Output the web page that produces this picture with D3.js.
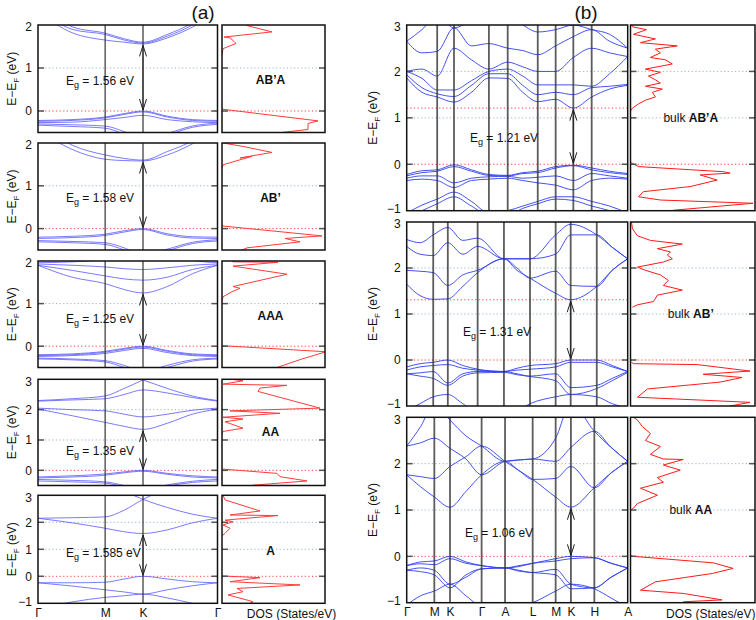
<!DOCTYPE html>
<html><head><meta charset="utf-8">
<script src="https://cdn.jsdelivr.net/npm/d3@7"></script>
<style>body{margin:0;background:#fff}svg{display:block;font-family:"Liberation Sans",Arial,sans-serif}</style>
</head><body><svg id="c" width="756" height="620"></svg>
<script>
// ================= DATA =================
// (a) path Γ-M-K-Γ : k nodes (path fraction)
const kPathA = [0, 0.19, 0.374, 0.48, 0.585, 0.72, 0.86, 1];
const symPosA = [0, 0.374, 0.585, 1];
const symLabelsA = ["Γ", "M", "K", "Γ"];

const bandsABpA = [
  [2.30, 1.82, 1.65, 1.60, 1.56, 1.70, 1.95, 2.30],
  [2.40, 1.90, 1.78, 1.65, 1.58, 1.74, 2.00, 2.40],
  [2.50, 1.96, 1.81, 1.68, 1.60, 1.78, 2.05, 2.50],
  [-0.22, -0.20, -0.14, -0.06, 0.00, -0.12, -0.20, -0.22],
  [-0.24, -0.22, -0.16, -0.08, -0.02, -0.14, -0.22, -0.24],
  [-0.27, -0.26, -0.20, -0.15, -0.10, -0.20, -0.25, -0.27],
  [-0.30, -0.32, -0.35, -0.48, -0.65, -0.52, -0.35, -0.28],
  [-0.33, -0.36, -0.40, -0.54, -0.72, -0.56, -0.38, -0.31]
];
const bandsABp = [
  [2.30, 1.85, 1.62, 1.59, 1.58, 1.72, 1.98, 2.35],
  [2.45, 1.95, 1.72, 1.64, 1.60, 1.80, 2.05, 2.45],
  [-0.20, -0.18, -0.13, -0.05, 0.00, -0.12, -0.19, -0.20],
  [-0.23, -0.21, -0.16, -0.08, -0.02, -0.15, -0.22, -0.23],
  [-0.28, -0.30, -0.33, -0.45, -0.62, -0.48, -0.32, -0.26],
  [-0.31, -0.33, -0.37, -0.50, -0.68, -0.52, -0.35, -0.29]
];
const bandsAAA = [
  [1.90, 1.62, 1.47, 1.33, 1.25, 1.40, 1.70, 1.90],
  [1.90, 1.78, 1.65, 1.58, 1.55, 1.62, 1.80, 1.90],
  [1.93, 1.90, 1.86, 1.82, 1.80, 1.84, 1.90, 1.93],
  [1.96, 1.98, 2.05, 2.25, 2.45, 2.20, 2.02, 1.96],
  [-0.20, -0.18, -0.12, -0.05, 0.00, -0.10, -0.18, -0.20],
  [-0.22, -0.20, -0.14, -0.07, -0.02, -0.12, -0.20, -0.22],
  [-0.24, -0.22, -0.17, -0.10, -0.05, -0.15, -0.22, -0.24],
  [-0.28, -0.30, -0.34, -0.45, -0.60, -0.45, -0.32, -0.28],
  [-0.30, -0.32, -0.37, -0.50, -0.66, -0.50, -0.35, -0.30]
];
const bandsAA = [
  [2.02, 1.80, 1.58, 1.45, 1.35, 1.55, 1.85, 2.02],
  [2.05, 2.00, 1.96, 1.85, 1.76, 1.85, 1.98, 2.05],
  [2.28, 2.32, 2.36, 2.50, 2.65, 2.55, 2.40, 2.28],
  [2.30, 2.36, 2.45, 2.70, 2.98, 3.40, 3.60, 3.70],
  [3.70, 3.60, 3.40, 3.20, 2.98, 2.70, 2.45, 2.30],
  [-0.22, -0.18, -0.12, -0.05, 0.00, -0.10, -0.18, -0.22],
  [-0.25, -0.22, -0.16, -0.08, -0.03, -0.13, -0.22, -0.25],
  [-0.30, -0.33, -0.38, -0.50, -0.65, -0.48, -0.36, -0.30],
  [-0.35, -0.38, -0.42, -0.55, -0.70, -0.52, -0.40, -0.35]
];
const bandsA = [
  [2.15, 1.98, 1.78, 1.65, 1.585, 1.72, 1.98, 2.15],
  [2.15, 2.17, 2.20, 2.45, 2.85, 3.25, 3.60, 3.70],
  [3.70, 3.60, 3.45, 3.15, 2.85, 2.55, 2.30, 2.15],
  [-0.24, -0.24, -0.22, -0.10, 0.00, -0.10, -0.20, -0.24],
  [-0.24, -0.36, -0.50, -0.58, -0.66, -0.50, -0.35, -0.24],
  [-1.20, -0.95, -0.78, -0.72, -0.66, -0.80, -1.00, -1.20]
];

// DOS: [energy (eV), DOS (arb.)], two branches each
const dosABpA = [
  [[2.10,10],[2.05,20],[1.98,26],[1.84,50],[1.72,2],[1.70,8],[1.62,12],[1.57,14],[1.45,1],[1.30,0]],
  [[0.06,0],[0.04,1],[-0.23,96],[-0.29,86],[-0.43,86],[-0.56,36],[-0.62,20]]
];
const dosABp = [
  [[2.05,1],[2.00,1],[1.92,21],[1.78,50],[1.65,18],[1.69,30],[1.49,1],[1.40,0]],
  [[0.08,0],[0.06,1],[-0.17,100],[-0.23,63],[-0.31,78],[-0.45,25],[-0.55,15]]
];
const dosAAA = [
  [[2.05,8],[1.98,11],[1.97,56],[1.88,11],[1.69,65],[1.40,11],[1.36,18],[1.28,10],[1.16,1],[1.05,0]],
  [[0.03,0],[0.01,1],[-0.13,104],[-0.30,80],[-0.50,55]]
];
const dosAA = [
  [[3.04,1],[2.95,21],[2.84,1],[2.80,65],[2.71,38],[2.60,36],[2.05,98],[1.96,8],[1.88,58],[1.75,1],[1.69,21],[1.60,3],[1.39,21],[1.28,1],[1.20,0]],
  [[0.06,0],[0.04,1],[-0.10,55],[-0.21,58],[-0.35,85],[-0.49,31],[-0.55,25]]
];
const dosA = [
  [[3.00,1],[2.83,3],[2.42,38],[2.27,8],[2.25,56],[2.08,3],[2.02,11],[1.90,1],[1.78,8],[1.59,3],[1.50,0]],
  [[0.03,0],[0.01,1],[-0.05,38],[-0.20,8],[-0.32,78],[-0.45,15],[-0.57,21],[-0.69,6],[-0.94,31],[-1.00,28]]
];

const egA = ["1.56", "1.58", "1.25", "1.35", "1.585"];
const namesA = ["AB’A", "AB’", "AAA", "AA", "A"];

// (b) bulk path Γ-M-K-Γ-A-L-M-K-H-A
const symLabelsB = ["Γ", "M", "K", "Γ", "A", "L", "M", "K", "H", "A"];
const kPathB1 = [0, 0.069, 0.138, 0.214, 0.293, 0.372, 0.457, 0.525, 0.593, 0.674, 0.754, 0.837, 0.918, 1];
const symPosB1 = [0, 0.138, 0.214, 0.372, 0.457, 0.593, 0.674, 0.754, 0.837, 1];
const kPathB2 = [0, 0.060, 0.120, 0.186, 0.254, 0.321, 0.440, 0.499, 0.558, 0.674, 0.742, 0.860, 0.930, 1];
const symPosB2 = [0, 0.120, 0.186, 0.321, 0.440, 0.558, 0.674, 0.742, 0.860, 1];
const kPathB3 = [0, 0.063, 0.125, 0.196, 0.268, 0.339, 0.445, 0.508, 0.570, 0.674, 0.743, 0.849, 0.925, 1];
const symPosB3 = [0, 0.125, 0.196, 0.339, 0.445, 0.570, 0.674, 0.743, 0.849, 1];

const bandsBulkABpA = [
  [1.86, 1.55, 1.45, 1.34, 1.55, 1.86, 1.85, 1.55, 1.35, 1.40, 1.21, 1.45, 1.62, 1.70],
  [1.93, 1.65, 1.52, 1.46, 1.70, 1.95, 1.95, 1.70, 1.50, 1.55, 1.50, 1.65, 1.68, 1.72],
  [2.00, 1.85, 1.60, 1.60, 1.80, 2.00, 2.05, 1.90, 1.71, 1.71, 1.71, 1.68, 1.95, 2.32],
  [2.00, 2.05, 1.90, 2.50, 2.25, 2.05, 2.20, 2.10, 2.00, 2.00, 2.30, 2.50, 2.40, 2.32],
  [2.65, 2.40, 2.43, 2.94, 2.55, 2.60, 2.50, 2.45, 2.36, 2.55, 2.75, 2.90, 2.65, 2.50],
  [2.65, 2.90, 3.20, 2.94, 3.10, 3.30, 3.20, 3.00, 2.85, 2.90, 3.00, 2.90, 2.80, 2.50],
  [-0.22, -0.14, -0.12, -0.01, -0.12, -0.22, -0.24, -0.18, -0.15, -0.05, -0.02, -0.08, -0.15, -0.20],
  [-0.25, -0.18, -0.15, -0.05, -0.15, -0.24, -0.25, -0.20, -0.18, -0.08, -0.03, -0.12, -0.18, -0.22],
  [-0.30, -0.25, -0.25, -0.40, -0.30, -0.27, -0.26, -0.30, -0.28, -0.25, -0.35, -0.20, -0.25, -0.30],
  [-0.35, -0.32, -0.35, -0.50, -0.35, -0.32, -0.30, -0.35, -0.40, -0.45, -0.55, -0.35, -0.30, -0.32],
  [-1.05, -0.88, -0.75, -0.60, -0.80, -1.05, -1.00, -0.90, -0.80, -0.70, -0.70, -0.80, -0.90, -1.05],
  [-1.15, -1.00, -0.85, -0.70, -0.90, -1.10, -1.10, -0.95, -0.85, -0.75, -0.78, -0.90, -1.00, -1.15]
];
const bandsBulkABp = [
  [1.65, 1.40, 1.32, 1.33, 1.60, 1.90, 2.20, 1.95, 1.78, 1.45, 1.31, 1.60, 1.95, 2.20],
  [1.95, 1.93, 1.90, 1.62, 1.85, 1.95, 2.20, 2.00, 1.78, 1.93, 1.62, 1.60, 1.95, 2.20],
  [2.47, 2.30, 2.27, 2.55, 2.30, 2.47, 2.20, 2.20, 2.20, 2.30, 2.72, 2.72, 2.45, 2.20],
  [2.62, 2.55, 2.72, 2.88, 2.60, 2.65, 2.20, 2.20, 2.20, 2.72, 2.95, 2.72, 2.45, 2.20],
  [-0.15, -0.08, -0.05, 0.00, -0.12, -0.20, -0.25, -0.18, -0.12, -0.08, 0.00, 0.00, -0.12, -0.25],
  [-0.22, -0.15, -0.12, -0.10, -0.18, -0.22, -0.25, -0.22, -0.20, -0.15, -0.05, -0.05, -0.15, -0.25],
  [-0.30, -0.28, -0.25, -0.50, -0.30, -0.25, -0.25, -0.30, -0.35, -0.30, -0.60, -0.55, -0.40, -0.25],
  [-0.30, -0.35, -0.40, -0.55, -0.35, -0.28, -0.27, -0.32, -0.36, -0.45, -0.75, -0.62, -0.45, -0.27],
  [-1.10, -0.95, -0.80, -0.75, -0.95, -1.15, -1.20, -1.10, -0.95, -0.80, -0.75, -0.80, -0.95, -1.05]
];
const bandsBulkAA = [
  [1.76, 1.50, 1.28, 1.06, 1.40, 1.76, 2.05, 1.85, 1.66, 1.28, 1.06, 1.48, 1.80, 2.05],
  [1.76, 1.72, 1.68, 1.94, 2.15, 2.38, 2.05, 1.85, 1.66, 1.68, 1.94, 1.48, 1.80, 2.05],
  [2.38, 2.45, 2.55, 2.33, 2.10, 1.76, 2.05, 2.08, 2.10, 2.05, 2.35, 2.70, 2.35, 2.05],
  [2.38, 2.80, 3.30, 2.94, 2.60, 2.38, 2.05, 2.08, 2.10, 2.55, 3.30, 2.70, 2.35, 2.05],
  [-0.20, -0.12, -0.10, 0.00, -0.12, -0.20, -0.25, -0.20, -0.15, -0.05, 0.00, -0.03, -0.15, -0.25],
  [-0.20, -0.16, -0.18, -0.05, -0.15, -0.20, -0.25, -0.22, -0.15, -0.10, -0.05, -0.03, -0.15, -0.25],
  [-0.30, -0.25, -0.30, -0.60, -0.45, -0.27, -0.25, -0.30, -0.35, -0.28, -0.60, -0.68, -0.45, -0.25],
  [-0.30, -0.33, -0.40, -0.68, -0.40, -0.27, -0.25, -0.32, -0.35, -0.40, -0.70, -0.68, -0.45, -0.25],
  [-1.05, -0.85, -0.75, -0.60, -0.85, -1.10, -1.20, -1.10, -1.00, -0.75, -0.60, -0.70, -0.90, -1.10]
];

const dosBulkABpA = [
  [[3.00,1],[2.96,2],[2.90,16],[2.80,3],[2.70,25],[2.62,10],[2.55,47],[2.48,25],[2.40,30],[2.30,20],[2.25,35],[2.16,42],[2.05,15],[1.98,30],[1.90,18],[1.82,25],[1.75,30],[1.68,15],[1.62,32],[1.55,22],[1.45,25],[1.38,15],[1.30,8],[1.21,2],[1.15,0]],
  [[0.05,0],[0.03,1],[-0.05,8],[-0.16,93],[-0.19,100],[-0.23,70],[-0.34,87],[-0.48,60],[-0.59,13],[-0.70,8],[-0.77,30],[-0.84,123],[-0.99,43]]
];
const dosBulkABp = [
  [[3.00,1],[2.85,2],[2.70,7],[2.60,20],[2.52,52],[2.42,27],[2.35,40],[2.28,37],[2.20,42],[2.13,33],[2.02,7],[1.95,15],[1.85,30],[1.73,38],[1.62,33],[1.52,52],[1.41,27],[1.27,23],[1.20,7],[1.15,2]],
  [[-0.05,1],[-0.08,3],[-0.10,67],[-0.24,120],[-0.31,73],[-0.38,112],[-0.48,90],[-0.63,17],[-0.81,7],[-0.92,120],[-1.00,100]]
];
const dosBulkAA = [
  [[3.00,3],[2.94,7],[2.80,12],[2.65,20],[2.50,15],[2.37,30],[2.20,20],[2.10,33],[2.09,53],[1.97,33],[1.86,50],[1.70,27],[1.60,33],[1.47,10],[1.32,27],[1.14,7],[1.04,3],[1.00,0]],
  [[0.02,0],[0.00,3],[-0.14,83],[-0.26,103],[-0.37,82],[-0.55,25],[-0.73,10],[-0.80,53],[-0.94,92],[-0.98,53]]
];

const egB = ["1.21", "1.31", "1.06"];
const cbmB = [1.21, 1.31, 1.06];
const namesB = ["AB’A", "AB’", "AA"];

// ================= LAYOUT =================
const svg = d3.select("#c");
const defs = svg.append("defs");
let clipN = 0;

const colA = {bx: [38, 217.5], dx: [222, 325], dosMax: 103, yTitleX: 16, egX: 66, band: "#5a5aff", bandW: 0.9, symW: 1.2};
const colB = {bx: [406.7, 627.7], dx: [630.5, 755], dosMax: 125, yTitleX: 377, egX: 468, band: "#3040f0", bandW: 1, symW: 1.8};

const rowsA = [
  {bands: bandsABpA, dos: dosABpA, eg: egA[0], cbm: +egA[0], name: namesA[0], y0: 25, y1: 132.5, dom: [-0.5, 2], ticks: [0, 1, 2], egE: 0.70, nameE: 0.72},
  {bands: bandsABp, dos: dosABp, eg: egA[1], cbm: +egA[1], name: namesA[1], y0: 143, y1: 250, dom: [-0.5, 2], ticks: [0, 1, 2], egE: 0.71, nameE: 0.72},
  {bands: bandsAAA, dos: dosAAA, eg: egA[2], cbm: +egA[2], name: namesA[2], y0: 261, y1: 367.5, dom: [-0.5, 2], ticks: [0, 1, 2], egE: 0.63, nameE: 0.72},
  {bands: bandsAA, dos: dosAA, eg: egA[3], cbm: +egA[3], name: namesA[3], y0: 379.3, y1: 485.5, dom: [-0.5, 3], ticks: [0, 1, 2, 3], egE: 0.64, nameE: 1.25},
  {bands: bandsA, dos: dosA, eg: egA[4], cbm: +egA[4], name: namesA[4], y0: 495.3, y1: 603.3, dom: [-1, 3], ticks: [-1, 0, 1, 2, 3], egE: 0.85, nameE: 0.94, bottom: true}
];
rowsA.forEach(r => { Object.assign(r, colA, {k: kPathA, sym: symPosA, labels: symLabelsA, kArrow: symPosA[2], bulk: false}); });

const rowsB = [
  {bands: bandsBulkABpA, dos: dosBulkABpA, eg: egB[0], cbm: cbmB[0], red2: cbmB[0], name: namesB[0], k: kPathB1, sym: symPosB1, y0: 25, y1: 210.7, egE: 0.57, nameE: 0.99, egX: 470},
  {bands: bandsBulkABp, dos: dosBulkABp, eg: egB[1], cbm: cbmB[1], red2: cbmB[1], name: namesB[1], k: kPathB2, sym: symPosB2, y0: 222, y1: 406, egE: 0.61, nameE: 1.0, egX: 463},
  {bands: bandsBulkAA, dos: dosBulkAA, eg: egB[2], cbm: cbmB[2], name: namesB[2], k: kPathB3, sym: symPosB3, y0: 417.3, y1: 602.7, egE: 0.51, nameE: 0.99, egX: 465, bottom: true}
];
rowsB.forEach(r => { Object.assign(r, Object.assign({}, colB, {egX: r.egX}), {dom: [-1, 3], ticks: [-1, 0, 1, 2, 3], labels: symLabelsB, kArrow: r.sym[7], bulk: true}); });

function drawRow(r) {
  const g = svg.append("g");
  const x = d3.scaleLinear().domain([0, 1]).range(r.bx);
  const y = d3.scaleLinear().domain(r.dom).range([r.y1, r.y0]);
  const xd = d3.scaleLinear().domain([0, r.dosMax]).range(r.dx);
  const id = "cl" + (clipN++);
  defs.append("clipPath").attr("id", id + "b").append("rect")
    .attr("x", r.bx[0]).attr("y", r.y0).attr("width", r.bx[1] - r.bx[0]).attr("height", r.y1 - r.y0);
  defs.append("clipPath").attr("id", id + "d").append("rect")
    .attr("x", r.dx[0]).attr("y", r.y0).attr("width", r.dx[1] - r.dx[0]).attr("height", r.y1 - r.y0);

  const spans = [r.bx, r.dx];
  r.ticks.filter(t => t !== 0 && t > r.dom[0] && t < r.dom[1]).forEach(t => {
    spans.forEach(s => g.append("line").attr("x1", s[0]).attr("x2", s[1]).attr("y1", y(t)).attr("y2", y(t))
      .attr("stroke", "#9db4cc").attr("stroke-width", 1).attr("stroke-dasharray", "1.2,2.4"));
  });
  spans.forEach(s => g.append("line").attr("x1", s[0]).attr("x2", s[1]).attr("y1", y(0)).attr("y2", y(0))
    .attr("stroke", "#ff4040").attr("stroke-width", 1).attr("stroke-dasharray", "1.2,2.4"));
  if (r.red2 != null) {
    g.append("line").attr("x1", r.bx[0]).attr("x2", r.bx[1]).attr("y1", y(r.red2)).attr("y2", y(r.red2))
      .attr("stroke", "#ff4040").attr("stroke-width", 1).attr("stroke-dasharray", "1.2,2.4");
  }

  const bl = d3.line().x((d, i) => x(r.k[i])).y(d => y(d)).curve(d3.curveMonotoneX);
  g.append("g").attr("clip-path", `url(#${id}b)`).selectAll("path").data(r.bands).join("path")
    .attr("d", bl).attr("fill", "none").attr("stroke", r.band).attr("stroke-width", r.bandW).attr("stroke-opacity", 0.9);

  g.selectAll("line.sym").data(r.sym.slice(1, -1)).join("line").attr("class", "sym")
    .attr("x1", d => x(d)).attr("x2", d => x(d)).attr("y1", r.y0).attr("y2", r.y1)
    .attr("stroke", "#333").attr("stroke-width", r.symW).attr("stroke-opacity", r.bulk ? 0.8 : 1);

  const dl = d3.line().x(d => xd(d[1])).y(d => y(d[0]));
  g.append("g").attr("clip-path", `url(#${id}d)`).selectAll("path").data(r.dos).join("path")
    .attr("d", dl).attr("fill", "none").attr("stroke", r.bulk ? "#ff1a1a" : "#ff3b3b").attr("stroke-width", 1);

  r.ticks.filter(t => t > r.dom[0] && t < r.dom[1]).forEach(t => {
    spans.forEach(s => {
      g.append("line").attr("x1", s[0]).attr("x2", s[0] + 6).attr("y1", y(t)).attr("y2", y(t)).attr("stroke", "#555").attr("stroke-width", 1.5);
      g.append("line").attr("x1", s[1] - 6).attr("x2", s[1]).attr("y1", y(t)).attr("y2", y(t)).attr("stroke", "#555").attr("stroke-width", 1.5);
    });
  });

  spans.forEach(s => g.append("rect").attr("x", s[0]).attr("y", r.y0).attr("width", s[1] - s[0]).attr("height", r.y1 - r.y0)
    .attr("fill", "none").attr("stroke", "#111").attr("stroke-width", 1.5));

  const ay = g.append("g").attr("transform", `translate(${r.bx[0]},0)`)
    .call(d3.axisLeft(y).tickValues(r.ticks).tickFormat(d3.format("d")).tickSize(0).tickPadding(6));
  ay.select(".domain").remove();
  ay.selectAll("text").attr("font-size", 12).attr("font-family", "Liberation Sans, Arial, sans-serif").attr("fill", "#111")
    .attr("transform", d => d === r.dom[1] ? "translate(0,2)" : (d === r.dom[0] ? "translate(0,-2)" : null));

  const yt = g.append("text").attr("transform", `translate(${r.yTitleX},${(r.y0 + r.y1) / 2}) rotate(-90)`)
    .attr("text-anchor", "middle").attr("font-size", 12).attr("fill", "#111");
  yt.append("tspan").text("E−E");
  yt.append("tspan").attr("font-size", 8).attr("dy", 3).text("F");
  yt.append("tspan").attr("dy", -3).text(" (eV)");

  const xa = x(r.kArrow), yt0 = y(r.cbm) + 1.5, yb0 = y(0) - 1;
  g.append("line").attr("x1", xa).attr("x2", xa).attr("y1", yt0).attr("y2", yb0).attr("stroke", "#222").attr("stroke-width", 1);
  g.append("path").attr("d", `M${xa - 3.5},${yt0 + 11}L${xa},${yt0}L${xa + 3.5},${yt0 + 11}`).attr("fill", "none").attr("stroke", "#222").attr("stroke-width", 1);
  g.append("path").attr("d", `M${xa - 3.5},${yb0 - 11}L${xa},${yb0}L${xa + 3.5},${yb0 - 11}`).attr("fill", "none").attr("stroke", "#222").attr("stroke-width", 1);

  const et = g.append("text").attr("x", r.egX).attr("y", y(r.egE) + 4).attr("font-size", 12).attr("fill", "#111");
  et.append("tspan").text("E");
  et.append("tspan").attr("font-size", 9).attr("dy", 3).text("g");
  et.append("tspan").attr("dy", -3).text(" = " + r.eg + " eV");

  const nt = g.append("text").attr("x", (r.dx[0] + r.dx[1]) / 2 - (r.bulk ? 2 : 3)).attr("y", y(r.nameE) + 4)
    .attr("text-anchor", "middle").attr("font-size", 12).attr("fill", "#111");
  if (r.bulk) nt.append("tspan").text("bulk ");
  nt.append("tspan").attr("font-weight", "bold").text(r.name);

  if (r.bottom) {
    const ax = g.append("g").attr("transform", `translate(0,${r.y1})`)
      .call(d3.axisBottom(x).tickValues(r.sym).tickFormat((d, i) => r.labels[i]).tickSize(0).tickPadding(5));
    ax.select(".domain").remove();
    ax.selectAll("text").attr("font-size", 12).attr("font-family", "Liberation Sans, Arial, sans-serif").attr("fill", "#111");
    g.append("text").attr("x", (r.dx[0] + r.dx[1]) / 2 + 18).attr("y", r.y1 + 15)
      .attr("text-anchor", "middle").attr("font-size", 12).attr("fill", "#111").text("DOS (States/eV)");
  }
}

rowsA.forEach(drawRow);
rowsB.forEach(drawRow);

svg.append("text").attr("x", 203).attr("y", 19).attr("text-anchor", "middle").attr("font-size", 19).attr("fill", "#111").text("(a)");
svg.append("text").attr("x", 586).attr("y", 19).attr("text-anchor", "middle").attr("font-size", 19).attr("fill", "#111").text("(b)");
</script></body></html>
